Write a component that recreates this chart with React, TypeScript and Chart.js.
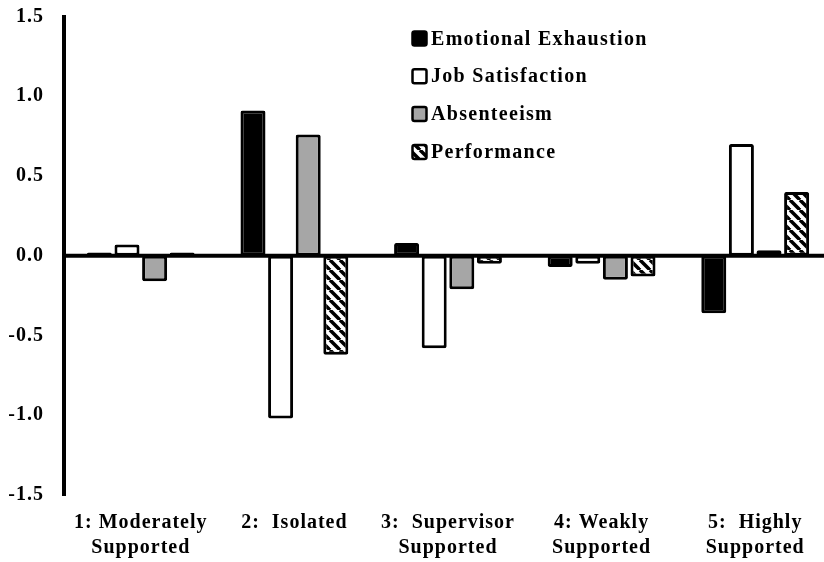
import React, { useEffect, useRef } from "react";
import { Chart, registerables } from "chart.js";

Chart.register(...registerables);

const categories: string[][] = [
  ["1: Moderately", "Supported"],
  ["2:  Isolated"],
  ["3:  Supervisor", "Supported"],
  ["4: Weakly", "Supported"],
  ["5:  Highly", "Supported"],
];

const emotionalExhaustion = [0.02, 0.91, 0.08, -0.07, -0.36];
const jobSatisfaction = [0.07, -1.02, -0.58, -0.05, 0.7];
const absenteeism = [-0.16, 0.76, -0.21, -0.15, 0.035];
const performance = [0.02, -0.62, -0.05, -0.13, 0.4];

const seriesLabels = ["Emotional Exhaustion", "Job Satisfaction", "Absenteeism", "Performance"];
const yTicks = [-1.5, -1.0, -0.5, 0.0, 0.5, 1.0, 1.5];

const FONT = "'Liberation Serif', 'Times New Roman', serif";

function makeHatch(): CanvasPattern | string {
  const c = document.createElement("canvas");
  c.width = 10;
  c.height = 10;
  const g = c.getContext("2d");
  if (!g) return "#fff";
  g.fillStyle = "#fff";
  g.fillRect(0, 0, 10, 10);
  g.strokeStyle = "#000";
  g.lineWidth = 3.5;
  for (const x0 of [-10, 0, 10]) {
    g.beginPath();
    g.moveTo(x0, 0);
    g.lineTo(x0 + 10, 10);
    g.stroke();
  }
  const p = g.createPattern(c, "repeat");
  return p || "#fff";
}

export default function App() {
  const ref = useRef<HTMLCanvasElement | null>(null);

  useEffect(() => {
    if (!ref.current) return;
    const hatch = makeHatch();
    const fills: any[] = ["#000000", "#ffffff", "#a6a6a6", hatch];
    const values = [emotionalExhaustion, jobSatisfaction, absenteeism, performance];

    const spacingPlugin = {
      id: "spacing",
      beforeUpdate(chart: any) {
        chart.ctx.letterSpacing = "1px";
      },
      beforeDraw(chart: any) {
        chart.ctx.letterSpacing = "1px";
      },
    };

    const zeroLinePlugin = {
      id: "zeroLine",
      afterDatasetsDraw(chart: any) {
        const ctx = chart.ctx as CanvasRenderingContext2D;
        const y = chart.scales.y.getPixelForValue(0);
        const { left, right } = chart.chartArea;
        ctx.save();
        ctx.strokeStyle = "#000";
        ctx.lineWidth = 4;
        ctx.beginPath();
        ctx.moveTo(left, y);
        ctx.lineTo(right, y);
        ctx.stroke();
        ctx.restore();
      },
    };

    const legendPlugin = {
      id: "customLegend",
      afterDraw(chart: any) {
        const ctx = chart.ctx as CanvasRenderingContext2D;
        ctx.save();
        (ctx as any).letterSpacing = "1.3px";
        chart.data.datasets.forEach((ds: any, i: number) => {
          const cy = 38.5 + 37.8 * i;
          const bx = 412.5;
          const by = cy - 7;
          ctx.beginPath();
          (ctx as any).roundRect(bx, by, 14, 14, 2);
          ctx.fillStyle = ds.backgroundColor;
          ctx.fill();
          ctx.lineWidth = 2.5;
          ctx.strokeStyle = "#000";
          ctx.stroke();
          ctx.fillStyle = "#000";
          ctx.font = `bold 20px ${FONT}`;
          ctx.textBaseline = "middle";
          ctx.textAlign = "left";
          ctx.fillText(ds.label, 431, cy + 1);
        });
        ctx.restore();
      },
    };

    const chart = new Chart(ref.current, {
      type: "bar",
      data: {
        labels: categories,
        datasets: seriesLabels.map((label, i) => ({
          label,
          data: values[i],
          backgroundColor: fills[i],
          borderColor: "#000",
          borderWidth: 3,
          borderRadius: 2,
          borderSkipped: false,
          categoryPercentage: 0.719,
          barPercentage: 0.906,
        })),
      },
      options: {
        responsive: false,
        animation: false,
        layout: { padding: { top: 16.5, right: 0, left: 0, bottom: 0 } },
        plugins: {
          legend: { display: false },
          tooltip: { enabled: false },
          title: { display: false },
        },
        scales: {
          x: {
            grid: { display: false, drawTicks: false },
            border: { display: false },
            ticks: {
              color: "#000",
              font: { family: FONT, weight: "bold", size: 20, lineHeight: 1.25 },
              padding: 15,
              maxRotation: 0,
              autoSkip: false,
            },
            afterFit: (s: any) => {
              s.height = 67;
            },
          },
          y: {
            min: -1.5,
            max: 1.5,
            afterBuildTicks: (s: any) => {
              s.ticks = yTicks.map((v) => ({ value: v }));
            },
            grid: { display: false, drawTicks: false },
            border: { display: true, color: "#000", width: 4 },
            ticks: {
              color: "#000",
              font: { family: FONT, weight: "bold", size: 20 },
              padding: 20,
              callback: (v: any) => Number(v).toFixed(1),
            },
            afterFit: (s: any) => {
              s.width = 64;
              s.paddingTop = 0;
              s.paddingBottom = 0;
            },
          },
        },
      },
      plugins: [spacingPlugin, zeroLinePlugin, legendPlugin],
    } as any);

    return () => chart.destroy();
  }, []);

  return (
    <div
      style={{
        position: "absolute",
        left: 0,
        top: 0,
        width: 824,
        height: 562,
        overflow: "hidden",
        background: "#fff",
      }}
    >
      <canvas ref={ref} width={832} height={562} style={{ width: 832, height: 562, display: "block" }} />
    </div>
  );
}
